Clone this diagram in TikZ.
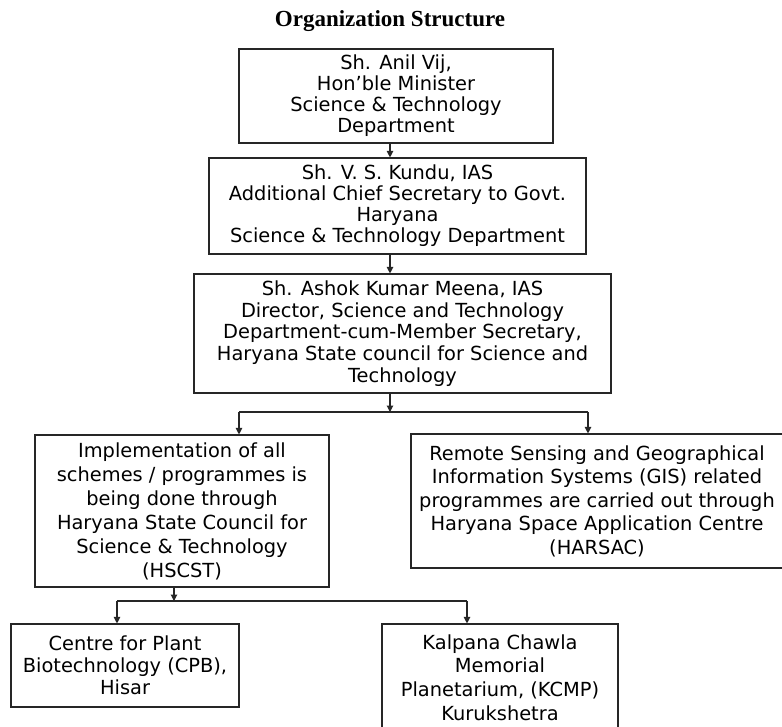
\documentclass[tikz,border=0pt]{standalone}
\usepackage{fontspec}
\setmainfont{DejaVu Sans}
\newfontfamily\titlefont{Liberation Serif}
\usetikzlibrary{arrows.meta}
\newcommand\boxfont[1]{\fontsize{19.4}{#1}\selectfont}
\begin{document}
\begin{tikzpicture}[x=1pt,y=-1pt,
  box/.style={draw=black!85, line width=1.1pt, align=center, inner sep=0pt, text=black},
  conn/.style={draw=black!85, line width=1.1pt},
  arr/.style={conn, -{Triangle[width=6.5pt,length=6.5pt]}}]
\useasboundingbox (0,0) rectangle (782,727);
\fill[white] (0,0) rectangle (782,727);
\node[font=\titlefont\bfseries\fontsize{23}{26}\selectfont] (title) at (390,21) {Organization Structure};
\node[box, font=\boxfont{21}, minimum width=314pt, minimum height=94pt] (b1) at (396,96)
  {Sh. Anil Vij,\\Hon’ble Minister\\Science \& Technology\\Department};
\node[box, font=\boxfont{21}, minimum width=377pt, minimum height=96pt] (b2) at (397.5,206)
  {Sh. V. S. Kundu, IAS\\Additional Chief Secretary to Govt.\\Haryana\\Science \& Technology Department};
\node[box, font=\boxfont{21.7}, minimum width=417pt, minimum height=119pt] (b3) at (402.5,333.5)
  {Sh. Ashok Kumar Meena, IAS\\Director, Science and Technology\\Department-cum-Member Secretary,\\Haryana State council for Science and\\Technology};
\node[box, font=\boxfont{24}, minimum width=294pt, minimum height=152pt] (b4) at (182,511)
  {Implementation of all\\schemes / programmes is\\being done through\\Haryana State Council for\\Science \& Technology\\(HSCST)};
\node[box, font=\boxfont{23.5}, minimum width=372pt, minimum height=134pt] (b7) at (597,501)
  {Remote Sensing and Geographical\\Information Systems (GIS) related\\programmes are carried out through\\Haryana Space Application Centre\\(HARSAC)};
\node[box, font=\boxfont{22}, minimum width=228pt, minimum height=83pt] (b5) at (125,665.5)
  {Centre for Plant\\Biotechnology (CPB),\\Hisar};
\node[box, font=\boxfont{23.7}, minimum width=236pt, minimum height=107pt] (b6) at (500,677.5)
  {Kalpana Chawla\\Memorial\\Planetarium, (KCMP)\\Kurukshetra};
\coordinate (sp) at (390,0);
\draw[arr] (b1.south -| sp) -- (b2.north -| sp);
\draw[arr] (b2.south -| sp) -- (b3.north -| sp);
\coordinate (f1) at (390,412);
\coordinate (f1l) at (239,412);
\coordinate (f1r) at (588,412);
\draw[arr] (b3.south -| f1) -- (f1);
\draw[conn] (f1l) -- (f1r);
\draw[arr] (f1l) -- (f1l |- b4.north);
\draw[arr] (f1r) -- (f1r |- b7.north);
\coordinate (f2) at (174,601);
\coordinate (f2l) at (117,601);
\coordinate (f2r) at (467,601);
\draw[arr] (b4.south -| f2) -- (f2);
\draw[conn] (f2l) -- (f2r);
\draw[arr] (f2l) -- (f2l |- b5.north);
\draw[arr] (f2r) -- (f2r |- b6.north);
\end{tikzpicture}
\end{document}
